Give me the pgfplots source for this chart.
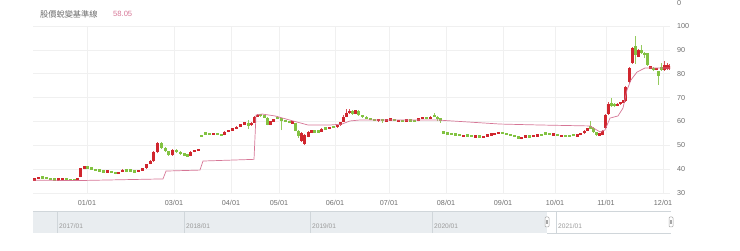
\documentclass[border=0pt]{standalone}
\usepackage{fontspec}
\setmainfont{Liberation Sans}
\newfontfamily\cjk{Noto Sans CJK TC}
\usepackage{pgfplots}
\usepackage{pgfplotstable}
\pgfplotsset{compat=1.18}
\definecolor{cred}{RGB}{208,38,46}
\definecolor{cgreen}{RGB}{130,194,66}
\definecolor{cpink}{RGB}{214,118,150}
\definecolor{gridc}{RGB}{240,240,240}
\definecolor{lbl}{RGB}{110,110,110}
\definecolor{navfill}{RGB}{233,237,240}
\definecolor{navline}{RGB}{208,214,218}

\pgfplotstableread{
x o c l h
34 35.5 35.9 35.3 36.1
38 36.0 36.6 35.9 36.8
42 36.6 36.3 36.1 36.8
46 36.3 36.1 35.9 36.5
50 36.0 35.8 35.6 36.2
54 35.8 35.6 35.4 36.0
58 35.6 35.8 35.5 36.0
62 35.8 36.0 35.6 36.2
66 35.9 35.6 35.4 36.0
70 35.6 35.4 35.2 35.7
74 35.4 35.3 35.2 35.5
77 35.4 36.2 35.3 36.4
80 36.8 40.3 36.6 40.5
84 40.3 41.1 40.0 41.4
87 41.0 40.4 40.2 41.2
91 40.4 40.0 39.8 40.6
95 40.0 39.5 39.3 40.2
99 39.5 39.2 39.0 39.7
103 39.2 38.9 38.7 39.4
107 38.7 39.2 38.6 39.4
111 39.2 38.6 38.4 39.3
115 38.6 38.0 37.8 38.8
118 38.1 38.8 38.0 39.0
122 38.9 39.6 38.7 40.2
126 39.6 39.3 39.0 39.9
130 39.6 39.2 39.0 39.8
134 39.2 38.8 38.6 39.4
138 38.8 39.5 38.7 39.7
142 39.5 40.3 39.4 40.5
146 40.4 42.0 40.2 42.3
150 42.2 43.6 42.0 44.0
153 43.3 47.3 43.0 47.6
157 47.0 50.8 46.6 51.2
161 51.0 48.8 48.4 51.3
165 48.9 47.5 47.2 49.2
168 47.5 45.9 45.6 47.8
172 45.9 48.0 45.7 48.3
176 48.0 47.2 46.9 48.3
180 47.2 46.4 46.1 47.4
184 46.4 45.9 45.6 46.6
187 45.8 45.5 45.3 46.0
190 45.6 47.2 45.4 47.5
194 47.5 47.9 47.0 48.1
198 47.9 48.4 47.7 48.6
201 54.2 53.8 53.5 54.5
205 55.2 54.8 54.5 55.5
209 54.9 54.6 54.4 55.1
213 54.7 54.9 54.4 55.1
217 54.9 54.5 54.3 55.1
221 54.4 54.3 54.1 54.6
224 54.4 55.6 54.2 55.8
228 55.6 56.3 55.4 56.5
232 56.3 56.9 56.1 57.1
236 56.9 57.8 56.7 58.0
240 57.8 58.9 57.6 59.1
244 58.9 59.3 58.6 59.5
248 59.0 58.4 57.0 60.8
251 58.4 59.5 58.2 59.8
254 59.5 62.0 59.3 62.3
257 62.0 62.8 61.8 63.2
260 62.8 62.4 62.0 63.1
264 62.4 61.6 61.3 62.7
267 61.5 58.6 58.3 61.7
270 58.6 60.0 58.4 60.3
273 60.0 60.8 59.8 61.0
277 61.8 61.2 61.0 62.3
281 61.2 60.5 56.4 61.5
285 60.5 59.8 59.6 60.7
289 59.8 59.5 59.3 60.0
292 59.4 59.8 59.2 60.0
295 59.2 56.0 55.8 59.4
298 56.0 54.0 53.0 56.2
301 51.8 55.2 51.5 55.4
304 50.6 54.4 50.3 54.6
308 53.5 55.7 53.3 56.0
311 55.7 56.0 55.5 56.2
314 56.0 55.7 55.5 56.2
318 55.8 55.6 55.4 56.0
321 55.6 57.0 55.5 57.2
325 57.1 56.9 56.7 57.3
329 56.9 57.6 56.7 57.8
333 57.7 57.5 57.3 57.9
337 57.6 58.4 57.4 58.6
340 58.4 59.6 58.2 59.9
343 59.8 62.0 59.6 62.6
346 62.0 63.5 61.8 65.0
349 63.5 64.4 63.0 65.3
352 64.4 63.0 62.7 64.7
355 63.3 64.6 63.0 64.9
358 64.4 62.7 62.4 64.7
362 62.6 61.9 61.6 62.8
366 61.9 61.2 61.0 62.1
370 61.2 60.6 60.4 61.4
374 60.6 60.4 60.1 60.8
378 60.1 60.9 59.9 61.1
382 60.8 60.2 59.4 61.0
386 60.2 60.7 60.0 61.0
390 60.6 60.9 60.4 61.1
394 60.8 60.3 60.1 61.0
398 60.2 60.4 60.0 60.7
402 60.3 60.1 59.9 60.5
406 60.2 60.7 60.0 60.9
410 60.6 60.3 60.1 60.8
414 60.4 60.2 60.0 60.6
418 60.2 61.3 60.0 61.5
422 61.3 61.6 61.1 61.8
426 61.6 61.1 60.9 61.8
430 61.1 62.0 60.9 62.2
434 62.8 62.0 61.8 63.6
437 62.0 61.0 60.0 62.2
440 61.0 60.6 59.5 61.2
443 55.6 55.0 54.8 55.8
447 55.1 54.9 54.7 55.3
451 54.9 54.6 54.4 55.1
455 54.6 54.4 54.2 54.8
459 54.4 54.2 54.0 54.6
463 53.7 54.2 53.5 54.4
467 54.2 54.0 53.8 54.4
471 54.0 53.8 53.6 54.2
475 53.5 53.9 53.3 54.1
479 53.8 53.6 53.4 54.0
483 53.3 53.8 53.1 54.0
487 53.8 54.3 53.6 54.5
491 54.3 54.6 54.1 54.8
494 54.6 55.1 54.4 55.3
498 55.1 55.3 54.9 55.5
502 55.3 55.0 54.8 55.5
506 55.0 54.6 54.4 55.2
510 54.6 54.1 53.9 54.8
514 54.1 53.6 53.4 54.3
518 53.6 53.0 52.8 53.8
521 52.7 53.4 52.5 53.6
525 53.4 53.8 53.2 54.0
529 53.8 53.6 53.4 54.0
533 53.6 54.0 53.4 54.2
537 54.0 54.1 53.8 54.3
541 54.4 54.2 54.0 54.6
545 55.1 54.8 54.6 55.3
549 54.8 54.5 54.3 55.0
553 54.3 54.6 54.1 54.8
557 54.5 54.2 54.0 54.7
561 53.8 54.1 53.6 54.3
565 54.1 53.9 53.7 54.3
569 54.2 53.8 53.6 54.4
573 54.4 54.2 54.0 54.6
577 54.0 54.3 53.8 54.5
580 54.3 55.0 54.1 55.2
584 55.0 56.0 54.8 56.2
587 56.0 57.2 55.8 57.4
590 58.2 57.0 56.8 60.2
593 57.3 55.5 55.3 57.5
596 55.5 54.4 54.0 55.7
599 54.4 54.6 54.2 54.8
602 54.4 56.0 54.2 56.2
605 57.1 62.7 56.9 63.0
608 63.0 67.5 62.8 68.0
611 67.8 66.5 66.0 69.7
614 67.5 66.4 66.0 67.8
617 66.6 67.4 66.3 67.8
620 67.3 67.9 66.9 68.2
623 68.0 68.6 67.8 68.9
625 68.5 74.6 68.3 75.0
629 76.6 82.3 76.3 83.0
632 84.6 90.6 84.2 91.0
635 91.5 88.0 84.0 95.8
638 87.2 90.0 86.8 90.4
641 90.0 88.6 88.2 92.0
644 88.6 88.0 86.5 89.0
647 88.5 83.6 83.3 88.8
650 82.3 83.0 82.0 83.4
653 82.5 81.4 81.0 82.8
656 81.8 82.4 81.5 82.6
658 81.0 78.9 75.3 81.2
661 82.9 81.5 81.3 84.5
664 81.6 83.5 81.3 85.3
667 82.0 83.7 81.7 84.3
669 82.0 83.2 81.5 84.0
}\candles

\pgfplotstableread{
x v
33 35.4
77 35.2
163 35.9
166 39.2
200 39.6
203 43.4
254 44.1
256 62.7
262 63.1
275 62.3
293 60.2
308 58.5
330 58.5
342 58.9
350 60.2
360 60.6
437 60.6
463 59.9
500 58.9
540 58.5
590 58.1
600 55.6
605 56.4
610 61.4
618 62.3
623 65.6
627 73.2
631 77.4
637 80.7
645 82.4
670 82.4
}\bline

\begin{document}
\begin{tikzpicture}
\path[use as bounding box] (0pt,0pt) rectangle (740pt,251pt);
\begin{axis}[
  at={(33pt,58pt)}, anchor=south west,
  scale only axis, width=637pt, height=167pt,
  xmin=33, xmax=670, ymin=30, ymax=100,
  axis line style={draw=none},
  major tick length=0pt,
  xtick={87,174,231,279,335,389,446,503,555,606,663},
  xticklabels={01/01,03/01,04/01,05/01,06/01,07/01,08/01,09/01,10/01,11/01,12/01},
  ytick={30,40,...,100},
  yticklabel pos=right,
  grid=major,
  major grid style={draw=gridc, line width=0.7pt},
  tick label style={font=\fontsize{7.2}{8}\selectfont, text=lbl},
  xticklabel style={anchor=north, inner sep=0pt, yshift=-7pt},
  yticklabel style={anchor=west, inner sep=0pt, xshift=7pt},
  /pgf/number format/assume math mode=true,
  candle/.style={draw=none, no markers, forget plot},
]
% wicks
\addplot[candle,
  restrict expr to domain={\thisrow{c}-\thisrow{o}}{-0.0001:1000},
  error bars/.cd, y dir=plus, y explicit, error mark=none,
  error bar style={draw=cred!80, line width=0.6pt}]
  table[x=x, y=l, y error expr=\thisrow{h}-\thisrow{l}] {\candles};
\addplot[candle,
  restrict expr to domain={\thisrow{c}-\thisrow{o}}{-1000:-0.0001},
  error bars/.cd, y dir=plus, y explicit, error mark=none,
  error bar style={draw=cgreen!85, line width=0.6pt}]
  table[x=x, y=l, y error expr=\thisrow{h}-\thisrow{l}] {\candles};
% bodies
\addplot[candle,
  restrict expr to domain={\thisrow{c}-\thisrow{o}}{-0.0001:1000},
  error bars/.cd, y dir=both, y explicit, error mark=none,
  error bar style={draw=cred, line width=3pt}]
  table[x=x, y expr=(\thisrow{o}+\thisrow{c})/2,
        y error expr={max(abs(\thisrow{c}-\thisrow{o})/2,0.5)}] {\candles};
\addplot[candle,
  restrict expr to domain={\thisrow{c}-\thisrow{o}}{-1000:-0.0001},
  error bars/.cd, y dir=both, y explicit, error mark=none,
  error bar style={draw=cgreen, line width=3pt}]
  table[x=x, y expr=(\thisrow{o}+\thisrow{c})/2,
        y error expr={max(abs(\thisrow{c}-\thisrow{o})/2,0.5)}] {\candles};
% baseline
\addplot[cpink, line width=0.7pt, mark=none] table[x=x, y=v] {\bline};
\end{axis}
% title
\node[anchor=west, inner sep=0pt, text=lbl, font=\cjk\fontsize{8.2}{9}\selectfont] at (40pt,237pt) {股價蛻變基準線};
\node[anchor=west, inner sep=0pt, text=cpink, font=\fontsize{7.6}{9}\selectfont] at (113pt,237pt) {58.05};
\node[anchor=west, inner sep=0pt, text=lbl, font=\fontsize{7.2}{8}\selectfont] at (677pt,248pt) {0};
% navigator
\fill[navfill] (33pt,18pt) rectangle (547pt,40pt);
\draw[navline, line width=0.6pt] (33pt,40pt) -- (671pt,40pt);
\draw[navline, line width=0.6pt] (547pt,18pt) -- (671pt,18pt);
\foreach \xx in {57,184,310,432,556} {\draw[navline, line width=0.6pt] (\xx pt,18pt) -- (\xx pt,40pt);}
\foreach \xx/\yy in {59/2017,186/2018,312/2019,434/2020,558/2021} {
  \node[anchor=west, inner sep=0pt, text=lbl!70, font=\fontsize{6.6}{7}\selectfont] at (\xx pt,25pt) {\yy/01};}
\foreach \xx in {547,671} {
  \draw[fill=white, draw=gray!70, line width=0.5pt, rounded corners=1pt] (\xx pt-2pt,24pt) rectangle (\xx pt+2pt,34pt);
  \draw[gray!70, line width=0.4pt] (\xx pt-0.6pt,27pt) -- (\xx pt-0.6pt,31pt) (\xx pt+0.6pt,27pt) -- (\xx pt+0.6pt,31pt);}
\end{tikzpicture}
\end{document}
